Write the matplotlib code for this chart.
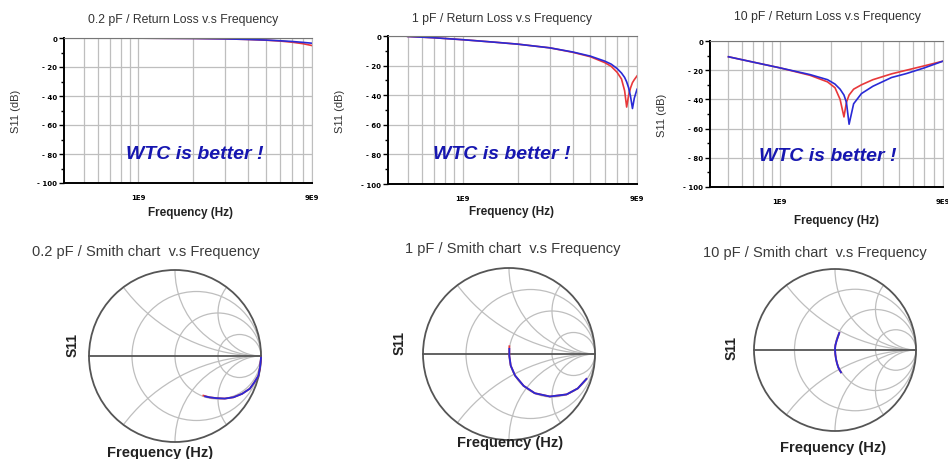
import matplotlib
matplotlib.use("Agg")
import matplotlib.pyplot as plt
import numpy as np
from matplotlib.patches import Circle

W, H = 948, 460

# ---- return loss data ----
freq_02 = [5e8, 1e9, 2e9, 3e9, 4e9, 5e9, 6e9, 7e9, 8e9, 9e9]
rl_02_red = [-0.05, -0.1, -0.3, -0.6, -1.0, -1.5, -2.1, -2.9, -3.9, -5.2]
rl_02_blue = [-0.05, -0.1, -0.3, -0.6, -1.0, -1.4, -1.9, -2.4, -3.0, -3.6]

freq_1 = [5e8, 7e8, 1e9, 1.5e9, 2e9, 3e9, 4e9, 5e9, 6e9, 6.5e9, 7e9, 7.4e9,
          7.7e9, 7.9e9, 8.1e9, 8.3e9, 8.5e9, 8.7e9, 9e9]
rl_1_red = [-0.3, -1.2, -2.5, -4.2, -5.5, -8, -11, -14, -18, -20.5, -24.5, -29,
            -37, -48, -40, -35, -31.5, -29.5, -27]
rl_1_blue = [-0.3, -1.2, -2.5, -4.2, -5.5, -8, -10.8, -13.6, -17, -19, -22, -25,
             -28, -31, -35, -41, -49, -42, -36]

freq_10 = [5e8, 7e8, 1e9, 1.5e9, 1.9e9, 2.1e9, 2.25e9, 2.37e9, 2.45e9, 2.54e9,
           2.7e9, 3e9, 3.5e9, 4.5e9, 5.5e9, 7e9, 9e9]
rl_10_red = [-10.8, -14.5, -18.4, -23.5, -28, -32, -40, -52, -42, -37,
             -33, -30, -26.5, -22.5, -20, -17, -13.8]
rl_10_blue = [-10.8, -14.5, -18.4, -23, -26.5, -29.5, -33, -37, -42, -57,
              -43, -36, -31, -25, -22.3, -18.4, -13.8]

# ---- smith chart traces (gamma real / imag) ----
sm_02_re_red = [1.0, 0.99, 0.97, 0.92, 0.87, 0.78, 0.68, 0.58, 0.48, 0.40, 0.33]
sm_02_im_red = [-0.02, -0.12, -0.23, -0.31, -0.38, -0.44, -0.48, -0.495, -0.49, -0.48, -0.46]
sm_02_re_blue = [1.0, 0.99, 0.97, 0.92, 0.87, 0.78, 0.68, 0.58, 0.48, 0.40, 0.35]
sm_02_im_blue = [-0.02, -0.12, -0.23, -0.31, -0.38, -0.44, -0.48, -0.495, -0.49, -0.48, -0.47]

sm_1_re_red = [0.004, 0.004, 0.004, 0.02, 0.07, 0.17, 0.30, 0.475, 0.67, 0.80, 0.90]
sm_1_im_red = [0.09, 0.066, -0.02, -0.135, -0.25, -0.37, -0.456, -0.494, -0.47, -0.40, -0.29]
sm_1_re_blue = [0.004, 0.004, 0.02, 0.07, 0.17, 0.30, 0.475, 0.67, 0.80, 0.90]
sm_1_im_blue = [0.06, -0.02, -0.135, -0.25, -0.37, -0.456, -0.494, -0.47, -0.40, -0.29]

sm_10_re = [0.053, 0.035, 0.02, 0.005, 0.0, 0.004, 0.012, 0.025, 0.04, 0.058, 0.074]
sm_10_im = [0.21, 0.16, 0.115, 0.06, 0.012, -0.05, -0.11, -0.165, -0.214, -0.25, -0.276]

titles_top = ["0.2 pF / Return Loss v.s Frequency", "1 pF / Return Loss v.s Frequency",
              "10 pF / Return Loss v.s Frequency"]
titles_bot = ["0.2 pF / Smith chart  v.s Frequency", "1 pF / Smith chart  v.s Frequency",
              "10 pF / Smith chart  v.s Frequency"]
y_ticks = [0, -20, -40, -60, -80, -100]
x_ticks = [1e9, 9e9]
x_tick_labels = ["1E9", "9E9"]
x_minor = [5e8, 6e8, 7e8, 8e8, 9e8, 2e9, 3e9, 4e9, 5e9, 6e9, 7e9, 8e9]

RED = "#e8383a"
BLUE = "#2a2ad6"
GRID = "#bebebe"
TXT = "#333333"


def rect(l, t, r, b):
    return [l / W, 1 - b / H, (r - l) / W, (b - t) / H]


def fx(x):
    return x / W


def fy(y):
    return 1 - y / H


plt.rcParams["font.family"] = ["Liberation Sans", "DejaVu Sans"]
fig = plt.figure(figsize=(W / 100, H / 100), dpi=100)

# top row: return loss
top_boxes = [(64, 39, 312, 184), (388, 37, 637, 185), (710, 42, 943, 188)]
top_data = [(freq_02, rl_02_red, rl_02_blue), (freq_1, rl_1_red, rl_1_blue),
            (freq_10, rl_10_red, rl_10_blue)]
title_pos = [(183, 20), (502, 19), (827, 17)]
ylab_x = [16, 340, 662]
xlab_pos = [(190, 213), (512, 212), (837, 221)]
wtc_pos = [(195, 155), (502, 155), (828, 157)]

for i in range(3):
    l, t, r, b = top_boxes[i]
    ax = fig.add_axes(rect(l, t, r, b))
    f, red, blue = top_data[i]
    ax.plot(f, red, color=RED, lw=1.2)
    ax.plot(f, blue, color=BLUE, lw=1.2)
    ax.set_xscale("log")
    ax.set_xlim(3.9e8, 9e9)
    ax.set_ylim(-100, 0)
    ax.set_xticks(x_ticks)
    ax.set_xticklabels(x_tick_labels)
    ax.set_xticks(x_minor, minor=True)
    ax.set_xticklabels([], minor=True)
    ax.set_yticks(y_ticks)
    ax.set_yticklabels(["- %d" % abs(v) if v else "0" for v in y_ticks])
    ax.set_yticks([-10, -30, -50, -70, -90], minor=True)
    ax.tick_params(axis="x", which="both", length=0, labelsize=5, pad=8)
    ax.tick_params(axis="y", which="major", length=3.5, width=1, labelsize=5, pad=1.5)
    ax.tick_params(axis="y", which="minor", length=2.5, width=1)
    for lab in ax.get_xticklabels() + ax.get_yticklabels():
        lab.set_fontweight("bold")
        lab.set_family("DejaVu Sans")
    ax.grid(True, which="both", axis="x", color=GRID, lw=0.9)
    ax.grid(True, which="major", axis="y", color=GRID, lw=0.9)
    ax.set_axisbelow(True)
    for s in ["left", "bottom"]:
        ax.spines[s].set_color("black")
        ax.spines[s].set_linewidth(1.4)
    ax.spines["top"].set_color("#777777")
    ax.spines["right"].set_color(GRID)
    fig.text(fx(title_pos[i][0]), fy(title_pos[i][1]), titles_top[i], ha="center",
             va="center", fontsize=8.8, color=TXT)
    fig.text(fx(ylab_x[i]), fy((t + b) / 2), "S11 (dB)", rotation=90, ha="center",
             va="center", fontsize=8, color=TXT)
    fig.text(fx(xlab_pos[i][0]), fy(xlab_pos[i][1]), "Frequency (Hz)", ha="center",
             va="center", fontsize=8.5, fontweight="bold", color="#222222")
    fig.text(fx(wtc_pos[i][0]), fy(wtc_pos[i][1]), "WTC is better !", ha="center",
             va="center", fontsize=14, fontweight="bold", fontstyle="italic",
             color="#1616b0")

# bottom row: smith charts
smith_geo = [(175, 357, 86), (509, 355, 86), (835, 351, 81)]
smith_data = [
    [(sm_02_re_red, sm_02_im_red, RED), (sm_02_re_blue, sm_02_im_blue, BLUE)],
    [(sm_1_re_red, sm_1_im_red, RED), (sm_1_re_blue, sm_1_im_blue, BLUE)],
    [(sm_10_re, sm_10_im, RED), (sm_10_re, sm_10_im, BLUE)],
]
btitle_pos = [(146, 252), (513, 249), (815, 253)]
s11_pos = [(73, 345), (400, 343), (732, 348)]
bxlab_pos = [(160, 453), (510, 443), (833, 448)]

for i in range(3):
    cx, cy, R = smith_geo[i]
    ax = fig.add_axes(rect(cx - R - 2, cy - R - 2, cx + R + 2, cy + R + 2))
    lim = 1 + 2 / R
    ax.set_xlim(-lim, lim)
    ax.set_ylim(-lim, lim)
    ax.axis("off")
    border = Circle((0, 0), 1, fill=False, ec="#555555", lw=1.3, zorder=3)
    ax.add_patch(border)
    clip = Circle((0, 0), 1, transform=ax.transData)
    for rr in [1 / 3, 1, 3]:
        c = Circle((rr / (1 + rr), 0), 1 / (1 + rr), fill=False, ec=GRID, lw=0.9)
        ax.add_patch(c)
    for xx in [0.5, 1, 2]:
        for sgn in [1, -1]:
            c = Circle((1, sgn / xx), 1 / xx, fill=False, ec=GRID, lw=0.9)
            ax.add_patch(c)
            c.set_clip_path(clip)
    ax.plot([-1, 1], [0, 0], color="#555555", lw=1.3, zorder=3)
    for re, im, col in smith_data[i]:
        ax.plot(re, im, color=col, lw=1.3, zorder=4)
    fig.text(fx(btitle_pos[i][0]), fy(btitle_pos[i][1]), titles_bot[i], ha="center",
             va="center", fontsize=10.5, color="#3a3a3a")
    fig.text(fx(s11_pos[i][0]), fy(s11_pos[i][1]), "S11", rotation=90, ha="center",
             va="center", fontsize=10, fontweight="bold", color="#222222")
    fig.text(fx(bxlab_pos[i][0]), fy(bxlab_pos[i][1]), "Frequency (Hz)", ha="center",
             va="center", fontsize=10.5, fontweight="bold", color="#222222")

fig.savefig("out.png", dpi=100)
